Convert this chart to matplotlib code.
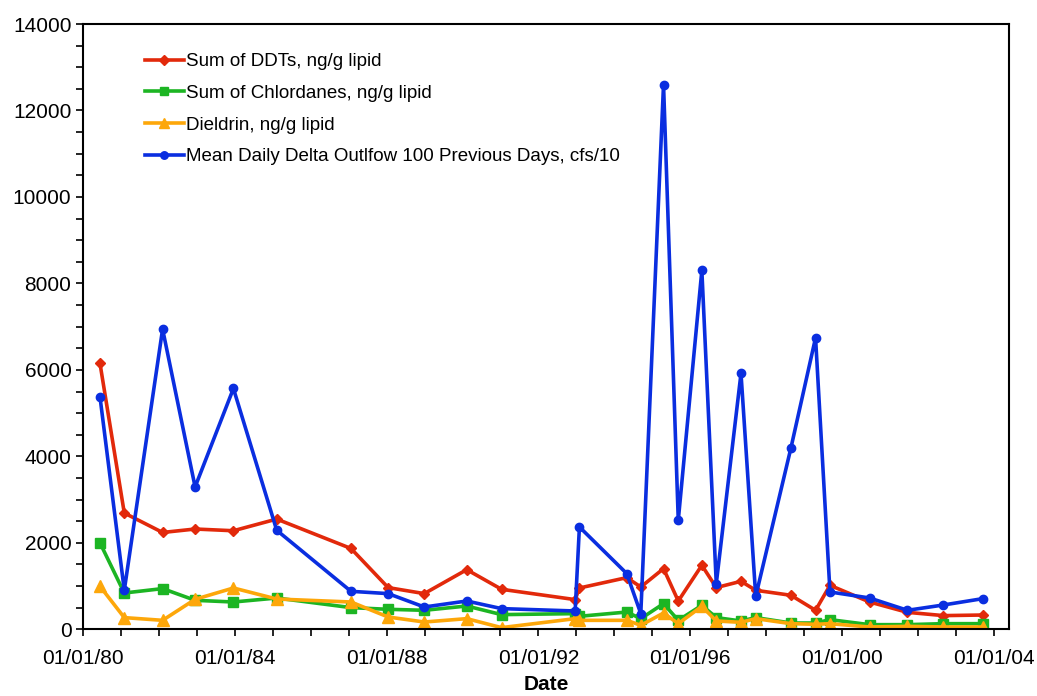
import matplotlib.pyplot as plt
import matplotlib.dates as mdates
import pandas as pd

# sample dates shared by all four series
dates = ['1980-06-10', '1981-01-30', '1982-02-03', '1982-12-13', '1983-12-17', '1985-02-06',
         '1987-01-22', '1988-01-15', '1988-12-28', '1990-02-10', '1991-01-11', '1992-12-20',
         '1993-01-30', '1994-05-01', '1994-09-13', '1995-04-20', '1995-09-09', '1996-04-23',
         '1996-09-09', '1997-05-05', '1997-09-24', '1998-08-29', '1999-04-23', '1999-09-09',
         '2000-09-24', '2001-09-24', '2002-09-06', '2003-09-20']

ddt = [6150, 2690, 2240, 2320, 2280, 2550, 1870, 965, 826, 1380, 926, 687, 956, 1196,
       979, 1404, 655, 1481, 965, 1111, 903, 787, 440, 1018, 632, 393, 317, 331]
chlordane = [2000, 840, 942, 671, 632, 724, 502, 463, 440, 539, 340, 363, 301, 400,
             247, 594, 208, 555, 271, 193, 271, 146, 146, 224, 108, 108, 131, 131]
dieldrin = [995, 271, 208, 694, 956, 701, 632, 285, 169, 247, 39, 247, 208, 208,
            93, 377, 131, 532, 193, 162, 247, 131, 116, 131, 54, 69, 54, 54]
outflow = [5376, 903, 6943, 3293, 5570, 2291, 879, 826, 516, 655, 479, 424, 2368, 1289,
           363, 12600, 2523, 8300, 1057, 5918, 764, 4196, 6742, 864, 725, 440, 563, 710]

labels = ['Sum of DDTs, ng/g lipid',
          'Sum of Chlordanes, ng/g lipid',
          'Dieldrin, ng/g lipid',
          'Mean Daily Delta Outlfow 100 Previous Days, cfs/10']

x = pd.to_datetime(dates)

plt.rcParams['font.family'] = ['Liberation Sans', 'DejaVu Sans']

fig = plt.figure(figsize=(10.37, 6.96), dpi=100)
ax = fig.add_axes([0.0803, 0.0958, 0.8927, 0.8697])

ax.plot(x, ddt, color='#e2290b', lw=2.6, marker='D', ms=5.5, label=labels[0])
ax.plot(x, chlordane, color='#1cb523', lw=2.6, marker='s', ms=6.5, label=labels[1])
ax.plot(x, dieldrin, color='#fda70a', lw=2.6, marker='^', ms=8, label=labels[2])
ax.plot(x, outflow, color='#0a2ee0', lw=2.6, marker='o', ms=6, label=labels[3])

ax.set_xlim(pd.Timestamp('1980-01-01'), pd.Timestamp('2004-05-29'))
ax.set_ylim(0, 14000)

ax.xaxis.set_major_locator(mdates.YearLocator(4))
ax.xaxis.set_minor_locator(mdates.YearLocator(1))
ax.xaxis.set_major_formatter(mdates.DateFormatter('%m/%d/%y'))
ax.set_yticks(range(0, 14001, 2000))
ax.set_yticks(range(0, 14001, 500), minor=True)

ax.tick_params(which='both', direction='out', width=1.2, length=5, labelsize=15)
ax.tick_params(axis='x', pad=9)
for s in ax.spines.values():
    s.set_linewidth(1.5)

ax.set_xlabel('Date', fontsize=15, fontweight='bold', labelpad=5)

ax.legend(loc='upper left', bbox_to_anchor=(0.048, 0.98), frameon=False, fontsize=13.5,
          handlelength=2.1, handletextpad=0.1, labelspacing=0.78, markerscale=0.9)

fig.savefig('out.png', dpi=100)
